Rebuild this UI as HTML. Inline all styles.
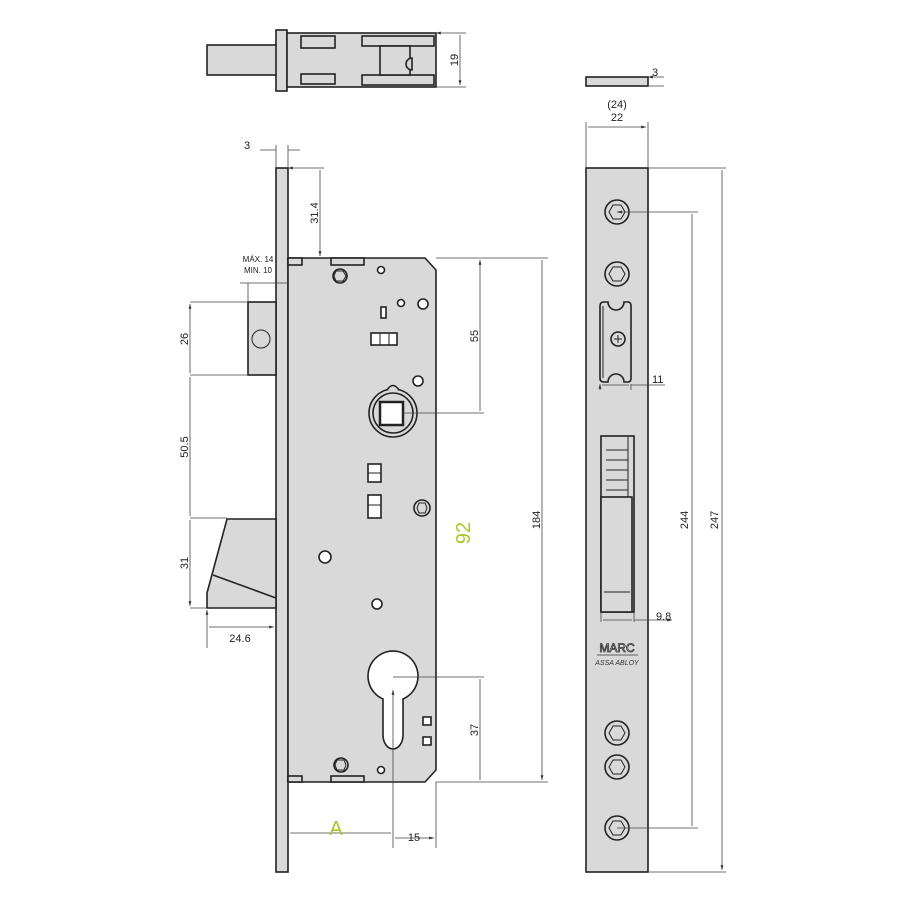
<!DOCTYPE html>
<html><head><style>body{margin:0;background:#fff}svg{display:block}text{font-family:"Liberation Sans",sans-serif;fill:#222}</style></head><body>
<svg width="900" height="900" viewBox="0 0 900 900" xmlns="http://www.w3.org/2000/svg">
<defs>
<marker id="a" viewBox="0 0 10 10" refX="10" refY="5" markerWidth="8" markerHeight="6" orient="auto-start-reverse"><path d="M0,2 L10,5 L0,8z" fill="#333"/></marker>
</defs>
<g stroke="#222" stroke-width="1.6" fill="#d9d9d9">
<rect x="207" y="45" width="70" height="30"/>
<rect x="276" y="30" width="11" height="61"/>
<rect x="287" y="33" width="149" height="54"/>
<rect x="301" y="36" width="34" height="12"/>
<rect x="301" y="74" width="34" height="10"/>
<rect x="362" y="36" width="72" height="10"/>
<rect x="362" y="75" width="72" height="10"/>
<rect x="380" y="46" width="30" height="29"/>
<path d="M412,70 a6,6 0 0 1 0,-12z"/>
<rect x="276" y="168" width="12" height="704"/>
<path d="M288,258 H425 L436,270 V770 L425,782 H288z"/>
<rect x="288" y="258" width="14" height="7"/>
<rect x="331" y="258" width="33" height="7"/>
<rect x="288" y="776" width="14" height="6"/>
<rect x="331" y="776" width="33" height="6"/>
<rect x="248" y="302" width="28" height="73"/>
<path d="M227,519 H276 V608 H207 V593 Z"/>
<path d="M213,575 L276,598" fill="none"/>
<circle cx="340" cy="276" r="7"/>
<circle cx="381" cy="270" r="3.5" fill="#fff"/>
<circle cx="401" cy="303" r="3.5" fill="#fff"/>
<circle cx="423" cy="304" r="5" fill="#fff"/>
<rect x="381" y="307" width="5" height="11" fill="#fff"/>
<rect x="371" y="333" width="26" height="12" fill="#fff"/>
<circle cx="418" cy="381" r="5" fill="#fff"/>
<circle cx="393" cy="413" r="24"/>
<circle cx="393" cy="413" r="20"/>
<path d="M387,390 Q393,381 399,390" fill="#d9d9d9"/>
<rect x="380" y="402" width="23" height="23" fill="#fff" stroke-width="2.5"/>
<rect x="368" y="464" width="13" height="18" fill="#fff"/>
<rect x="368" y="495" width="13" height="23" fill="#fff"/>
<circle cx="422" cy="508" r="8"/>
<circle cx="325" cy="557" r="6" fill="#fff"/>
<circle cx="377" cy="604" r="5" fill="#fff"/>
<path d="M383,699 A25,25 0 1 1 403,699 V735 A10,14 0 0 1 383,735Z" fill="#fff"/>
<rect x="423" y="717" width="8" height="8" fill="#fff"/>
<rect x="423" y="737" width="8" height="8" fill="#fff"/>
<circle cx="341" cy="765" r="7"/>
<circle cx="381" cy="770" r="3.5" fill="#fff"/>
<rect x="586" y="77" width="62" height="9"/>
<rect x="586" y="168" width="62" height="704"/>
<circle cx="617" cy="212" r="12"/>
<circle cx="617" cy="274" r="12"/>
<path d="M604,302 H608 A8,8 0 0 0 624,302 H628 Q631,302 631,306 V378 Q631,382 628,382 H624 A8,8 0 0 0 608,382 H604 Q600,382 600,378 V306 Q600,302 604,302Z"/>
<circle cx="618" cy="339" r="7"/>
<rect x="601" y="436" width="33" height="176"/>
<rect x="601" y="497" width="31" height="115"/>
<circle cx="617" cy="733" r="12"/>
<circle cx="617" cy="767" r="12"/>
<circle cx="617" cy="828" r="12"/>
</g>
<g stroke="#222" stroke-width="1" fill="none">
<polygon points="336,271 343,271 346,276 343,281 336,281 334,276"/>
<polygon points="419,503 425,503 427,508 425,513 419,513 417,508"/>
<polygon points="337,760 344,760 346,765 344,770 337,770 335,765"/>
<path d="M380,333 V345 M389,333 V345 M368,473 H381 M368,505 H381"/>
<polygon points="613,205 621,205 625,212 621,219 613,219 609,212"/>
<polygon points="613,267 621,267 625,274 621,281 613,281 609,274"/>
<polygon points="613,726 621,726 625,733 621,740 613,740 609,733"/>
<polygon points="613,760 621,760 625,767 621,774 613,774 609,767"/>
<polygon points="613,821 621,821 625,828 621,835 613,835 609,828"/>
<path d="M614,339 H622 M618,335 V343 M603,306 V378"/>
<path d="M606,450 h22 M606,460 h22 M606,470 h22 M606,480 h22 M606,490 h22 M628,437 V497 M604,592 H630"/>
<circle cx="261" cy="339" r="9"/>
</g>
<g stroke="#444" stroke-width="0.8" fill="none">
<path d="M276,145 V168 M288,145 V168 M260,150 H276 M288,150 H300"/>
<path d="M288,168 H324 M320,170 V256" marker-start="url(#a)" marker-end="url(#a)"/>
<path d="M240,283 H288 M248,283 V302"/>
<path d="M190,302 H248 M190,375 H248 M190,518 H227 M190,608 H207"/>
<path d="M190,304 V373 M190,377 V516 M190,520 V606" marker-start="url(#a)" marker-end="url(#a)"/>
<path d="M207,610 V648 M209,627 H274" marker-start="url(#a)" marker-end="url(#a)"/>
<path d="M436,258 H548 M403,413 H484 M393,677 H484 M436,782 H548"/>
<path d="M480,260 V411 M480,679 V780 M542,260 V780" marker-start="url(#a)" marker-end="url(#a)"/>
<path d="M393,690 V848 M436,782 V848 M290,833 H391 M395,838 H434" marker-start="url(#a)" marker-end="url(#a)"/>
<path d="M436,33 H466 M436,87 H466 M460,35 V85" marker-start="url(#a)" marker-end="url(#a)"/>
<path d="M648,77 H664 M648,86 H664 M586,122 V168 M648,122 V168 M588,127 H646" marker-start="url(#a)" marker-end="url(#a)"/>
<path d="M617,212 H698 M617,828 H698 M648,168 H726 M648,872 H726 M692,214 V826 M722,170 V870" marker-start="url(#a)" marker-end="url(#a)"/>
<path d="M600,384 V390 M631,384 V390 M602,385 H629 M631,385 H665 M601,612 V622 M634,612 V622 M603,620 H632 M634,620 H672" marker-start="url(#a)" marker-end="url(#a)"/>
</g>
<g font-size="11">
<text x="244" y="149">3</text>
<text x="258" y="262" font-size="8" text-anchor="middle">MÁX. 14</text>
<text x="258" y="273" font-size="8" text-anchor="middle">MIN. 10</text>
<text transform="translate(318,213) rotate(-90)" text-anchor="middle">31.4</text>
<text transform="translate(188,339) rotate(-90)" text-anchor="middle">26</text>
<text transform="translate(188,447) rotate(-90)" text-anchor="middle">50.5</text>
<text transform="translate(188,563) rotate(-90)" text-anchor="middle">31</text>
<text x="240" y="642" text-anchor="middle">24.6</text>
<text transform="translate(478,336) rotate(-90)" text-anchor="middle">55</text>
<text transform="translate(478,730) rotate(-90)" text-anchor="middle">37</text>
<text transform="translate(540,520) rotate(-90)" text-anchor="middle">184</text>
<text x="414" y="841" text-anchor="middle">15</text>
<text transform="translate(458,60) rotate(-90)" text-anchor="middle">19</text>
<text x="652" y="76">3</text>
<text x="617" y="108" text-anchor="middle">(24)</text>
<text x="617" y="121" text-anchor="middle">22</text>
<text x="652" y="383">11</text>
<text x="656" y="620">9.8</text>
<text transform="translate(688,520) rotate(-90)" text-anchor="middle">244</text>
<text transform="translate(718,520) rotate(-90)" text-anchor="middle">247</text>
<text transform="translate(470,533) rotate(-90)" text-anchor="middle" font-size="20" style="fill:#a8c62a">92</text>
<text x="336" y="835" text-anchor="middle" font-size="20" style="fill:#a8c62a">A</text>
<text x="617" y="652" text-anchor="middle" font-size="12" style="fill:#fff;stroke:#333;stroke-width:0.8">MARC</text>
<text x="617" y="665" text-anchor="middle" font-size="7" font-style="italic" style="fill:#333">ASSA ABLOY</text>
</g>
<path d="M597,655 H638" stroke="#333" stroke-width="0.8"/>
</svg>
</body></html>
